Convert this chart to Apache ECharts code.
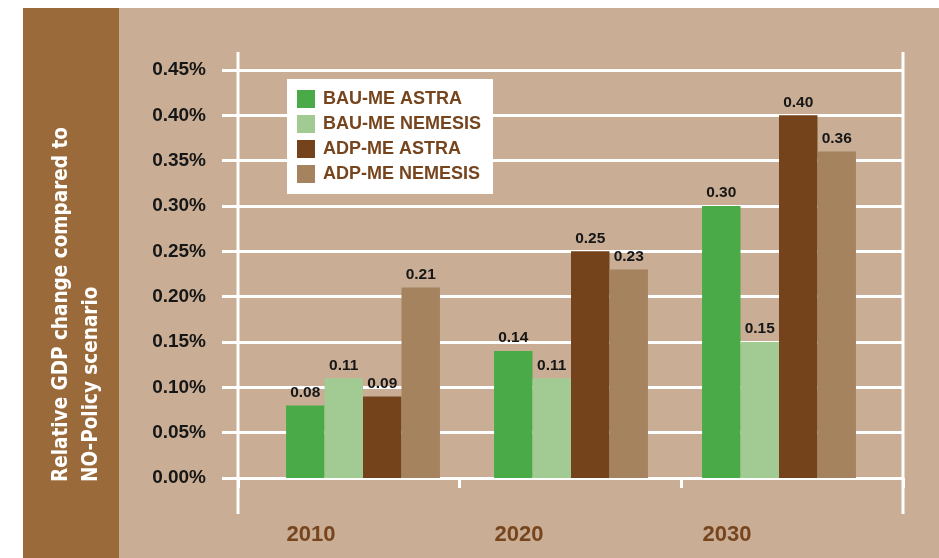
<!DOCTYPE html>
<html>
<head>
<meta charset="utf-8">
<script src="https://cdn.jsdelivr.net/npm/echarts@6/dist/echarts.min.js"></script>
<style>
  html, body { margin: 0; padding: 0; background: #ffffff; }
  #chart { width: 939px; height: 558px; }
</style>
</head>
<body>
<div id="chart"></div>
<script>
// Relative GDP change vs the NO-Policy scenario, by year and scenario
const categories = ['2010', '2020', '2030'];
const seriesNames = ['BAU-ME ASTRA', 'BAU-ME NEMESIS', 'ADP-ME ASTRA', 'ADP-ME NEMESIS'];
const bauAstra = [0.08, 0.14, 0.30];
const bauNemesis = [0.11, 0.11, 0.15];
const adpAstra = [0.09, 0.25, 0.40];
const adpNemesis = [0.21, 0.23, 0.36];
const seriesColors = ['#4AAA48', '#A1CB93', '#74431C', '#A6835F'];
const yMin = 0, yMax = 0.45, yStep = 0.05;

const brownText = '#77451D';
const lineWhite = '#FFFFFF';

const chart = echarts.init(document.getElementById('chart'), null, { renderer: 'canvas' });

const valueLabel = {
  show: true,
  position: 'top',
  distance: 5,
  color: '#161616',
  fontFamily: '"Liberation Sans", Arial, sans-serif',
  fontWeight: 'bold',
  fontSize: 15.5,
  formatter: p => p.value.toFixed(2)
};

const seriesData = [bauAstra, bauNemesis, adpAstra, adpNemesis];

const option = {
  backgroundColor: '#ffffff',
  animation: false,
  textStyle: { fontFamily: '"Liberation Sans", Arial, sans-serif' },
  graphic: [
    { type: 'rect', z: -10, silent: true, shape: { x: 119, y: 8, width: 820, height: 550 }, style: { fill: '#C9AE95' } },
    { type: 'rect', z: -10, silent: true, shape: { x: 23, y: 8, width: 96, height: 550 }, style: { fill: '#9A6A3A' } },
    { type: 'line', z: 5, silent: true, shape: { x1: 238, y1: 52, x2: 238, y2: 514 }, style: { stroke: lineWhite, lineWidth: 3 } },
    { type: 'line', z: 5, silent: true, shape: { x1: 903, y1: 52, x2: 903, y2: 514 }, style: { stroke: lineWhite, lineWidth: 3 } },
    {
      type: 'text', z: 5, silent: true,
      x: 77, y: 482, rotation: Math.PI / 2,
      style: {
        text: 'Relative GDP change compared to\nNO-Policy scenario',
        fill: '#FFFFFF',
        fontFamily: '"DejaVu Sans Condensed", "Liberation Sans Narrow", sans-serif',
        fontWeight: 'bold',
        fontSize: 20.5,
        lineHeight: 30,
        align: 'left',
        verticalAlign: 'middle'
      }
    }
  ],
  legend: {
    data: seriesNames,
    orient: 'vertical',
    left: 287,
    top: 79,
    backgroundColor: '#FFFFFF',
    padding: [11, 12, 11, 10],
    itemWidth: 18,
    itemHeight: 18,
    itemGap: 7,
    icon: 'rect',
    selectedMode: false,
    textStyle: {
      color: brownText,
      fontFamily: '"Liberation Sans", Arial, sans-serif',
      fontWeight: 'bold',
      fontSize: 18,
      padding: [0, 0, 0, 3]
    }
  },
  grid: [
    // frame: gridlines, value axis, baseline
    { left: 238, right: 36, top: 70, bottom: 80 },
    // bars
    { left: 259, right: 56, top: 70, bottom: 80 }
  ],
  xAxis: [
    {
      type: 'category', gridIndex: 0, data: categories,
      axisLine: { show: true, lineStyle: { color: lineWhite, width: 3 } },
      axisTick: { show: true, length: 10, lineStyle: { color: lineWhite, width: 3 } },
      axisLabel: { show: false },
      splitLine: { show: false }
    },
    {
      type: 'category', gridIndex: 1, data: categories,
      axisLine: { show: false },
      axisTick: { show: false },
      splitLine: { show: false },
      axisLabel: {
        margin: 44,
        formatter: v => '{y|' + v + '}{p| }',
        rich: {
          y: { color: brownText, fontFamily: '"Liberation Sans", Arial, sans-serif', fontWeight: 'bold', fontSize: 22, lineHeight: 26 },
          p: { width: 104, fontSize: 22, lineHeight: 26 }
        }
      }
    }
  ],
  yAxis: [
    {
      type: 'value', gridIndex: 0, min: yMin, max: yMax, interval: yStep,
      axisLine: { show: false },
      axisTick: { show: true, inside: false, length: 16, lineStyle: { color: lineWhite, width: 3 } },
      splitLine: { show: true, lineStyle: { color: lineWhite, width: 3 } },
      axisLabel: {
        margin: 32,
        color: '#161616',
        fontFamily: '"Liberation Sans", Arial, sans-serif',
        fontWeight: 'bold',
        fontSize: 19,
        formatter: v => v.toFixed(2) + '%'
      }
    },
    {
      type: 'value', gridIndex: 1, min: yMin, max: yMax, interval: yStep,
      show: false
    }
  ],
  series: seriesNames.map((name, i) => ({
    name: name,
    type: 'bar',
    xAxisIndex: 1,
    yAxisIndex: 1,
    data: seriesData[i],
    barGap: '0%',
    barCategoryGap: '26%',
    itemStyle: { color: seriesColors[i] },
    label: valueLabel
  }))
};

chart.setOption(option);
</script>
</body>
</html>
